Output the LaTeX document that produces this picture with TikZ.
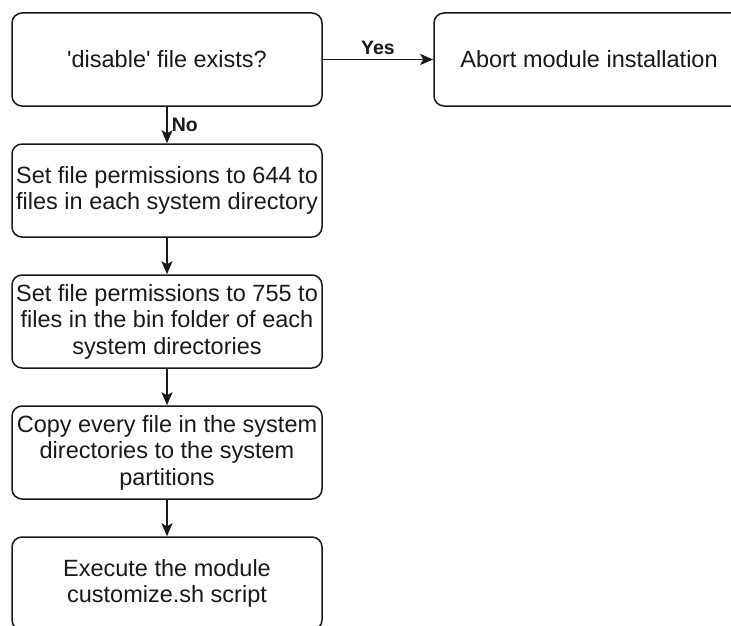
\documentclass[tikz,border=0pt]{standalone}
\usepackage{fontspec}
\newfontfamily\diagfont{Liberation Sans}
\usetikzlibrary{arrows.meta}

\begin{document}
\begin{tikzpicture}[x=1pt,y=-1pt,
  stepbox/.style={draw=black!90, line width=1.5pt, rounded corners=10pt,
    minimum width=310pt, minimum height=93pt, align=center, inner sep=2pt,
    text=black!90, font=\diagfont\fontsize{23.5}{26.5}\selectfont},
  flow/.style={draw=black!90, line width=1.5pt,
    -{Stealth[length=13pt,width=11pt,inset=3pt]}},
  edgelabel/.style={text=black!90, font=\diagfont\bfseries\fontsize{19.5}{22}\selectfont, inner sep=1pt}]

\useasboundingbox (0,0) rectangle (731,626);
\clip (0,0) rectangle (731,626);

% main column
\node[stepbox] (check)  at (167,59.5)  {'disable' file exists?};
\node[stepbox] (perm644) at (167,190.5) {Set file permissions to 644 to\\files in each system directory};
\node[stepbox] (perm755) at (167,321.5) {Set file permissions to 755 to\\files in the bin folder of each\\system directories};
\node[stepbox] (copy)   at (167,452.5) {Copy every file in the system\\directories to the system\\partitions};
\node[stepbox] (exec)   at (167,583.5) {Execute the module\\customize.sh script};

% branch on the right
\node[stepbox] (abort)  at (589,59.5)  {Abort module installation};

% connectors
\draw[flow] (check) -- node[edgelabel, above=3pt] {Yes} (abort);
\draw[flow] (check) -- node[edgelabel, right=3pt] {No} (perm644);
\draw[flow] (perm644) -- (perm755);
\draw[flow] (perm755) -- (copy);
\draw[flow] (copy) -- (exec);

\end{tikzpicture}
\end{document}
